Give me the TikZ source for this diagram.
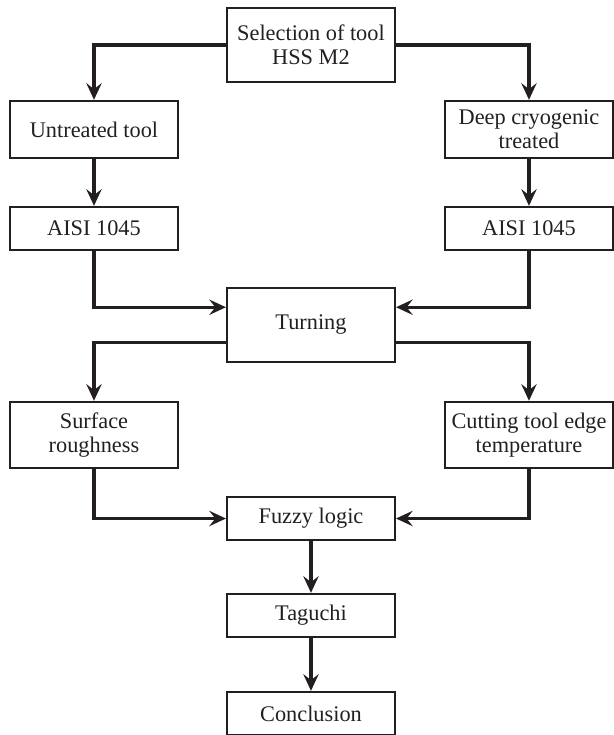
\documentclass[tikz,border=0pt]{standalone}
\usepackage{fontspec}
\setmainfont{Liberation Serif}
\usetikzlibrary{arrows.meta}
\definecolor{linecol}{HTML}{231F20}

\begin{document}
\begin{tikzpicture}[
  font=\fontsize{16.8}{18}\selectfont,
  box/.style={
    draw=linecol, line width=1.7pt, text=linecol,
    minimum width=4.44cm, minimum height=#1, align=center,
    inner sep=2pt,
  },
  box/.default=1.14cm,
  arrow/.style={-{Stealth[length=12.5pt, width=11.5pt, inset=4.5pt]}, line width=2.6pt, draw=linecol},
]
\useasboundingbox (0,0) rectangle (16.245,-19.447);

% =================== tool selection ===================
\node[box=1.96cm] (sel) at (8.228, -1.191) {Selection of tool\\HSS M2};
\node[box=1.51cm] (untr) at (2.487, -3.426) {Untreated tool};
\node[box=1.51cm] (cryo) at (13.996, -3.426) {Deep cryogenic\\treated};

% =================== workpiece ===================
\node[box] (wl) at (2.487, -6.046) {AISI 1045};
\node[box] (wr) at (13.996, -6.046) {AISI 1045};

% =================== machining and responses ===================
\node[box=1.96cm] (turn) at (8.228, -8.599) {Turning};
\node[box=1.75cm] (sr) at (2.487, -11.509) {Surface\\roughness};
\node[box=1.75cm] (ct) at (13.996, -11.509) {Cutting tool edge\\temperature};

% =================== analysis ===================
\node[box] (fz) at (8.228, -13.719) {Fuzzy logic};
\node[box] (tg) at (8.228, -16.285) {Taguchi};
\node[box] (cc) at (8.228, -18.878) {Conclusion};

% Connectors
\draw[arrow] (sel.west) -| (untr.north);
\draw[arrow] (sel.east) -| (cryo.north);
\draw[arrow] (untr) -- (wl);
\draw[arrow] (cryo) -- (wr);
\draw[arrow] (wl.south) |- ([yshift=0.47cm]turn.west);
\draw[arrow] (wr.south) |- ([yshift=0.47cm]turn.east);
\draw[arrow] ([yshift=-0.47cm]turn.west) -| (sr.north);
\draw[arrow] ([yshift=-0.47cm]turn.east) -| (ct.north);
\draw[arrow] (sr.south) |- (fz.west);
\draw[arrow] (ct.south) |- (fz.east);
\draw[arrow] (fz) -- (tg);
\draw[arrow] (tg) -- (cc);

\end{tikzpicture}
\end{document}
